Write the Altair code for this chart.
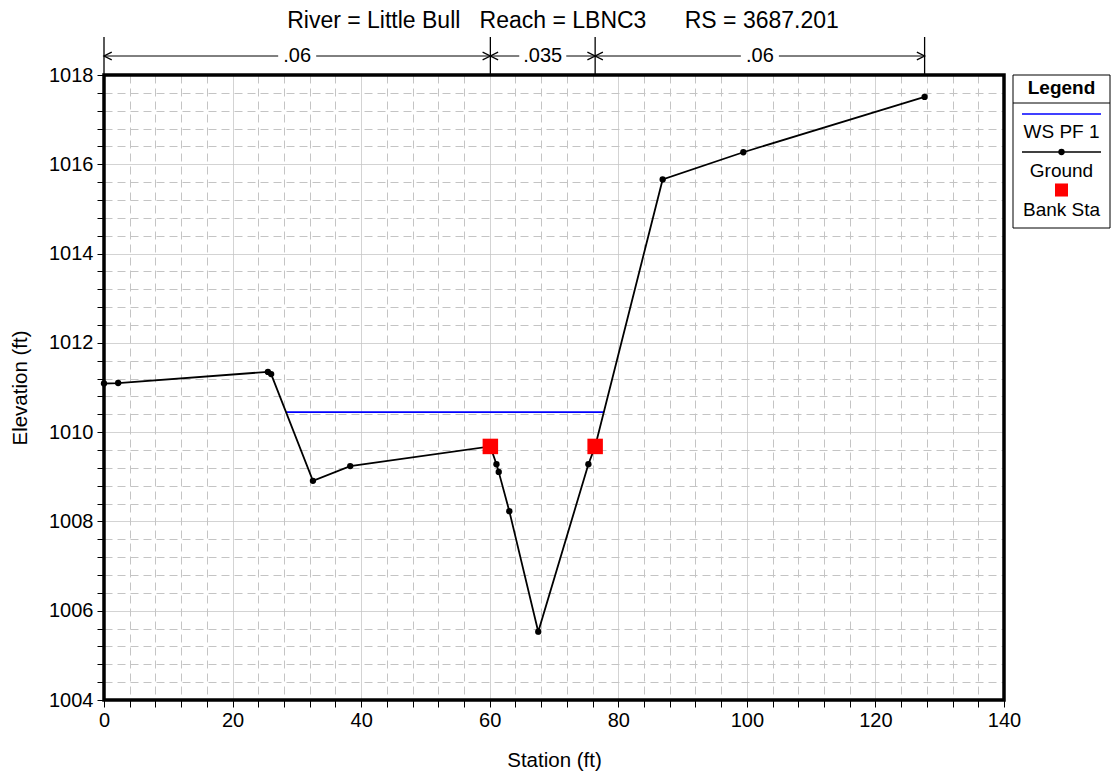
import altair as alt
import pandas as pd

# ---------------- data ----------------
ground_sta = [0.0, 2.2, 25.5, 26.0, 32.5, 38.3, 60.1, 61.05, 61.4, 63.05, 67.55, 75.35, 76.4, 86.9, 99.45, 127.65]
ground_elev = [1011.09, 1011.10, 1011.35, 1011.30, 1008.91, 1009.24, 1009.68, 1009.28, 1009.11, 1008.23,
               1005.53, 1009.28, 1009.68, 1015.66, 1016.27, 1017.51]
ws_sta = [28.35, 77.8]
ws_elev = [1010.45, 1010.45]
bank_sta = [60.1, 76.4]
bank_elev = [1009.68, 1009.68]
n_bounds = [0.0, 60.1, 76.4, 127.65]
n_values = [".06", ".035", ".06"]
x_ticks = list(range(0, 141, 4))
y_ticks = [round(1004 + 0.4 * i, 1) for i in range(36)]
title_text = "River = Little Bull\u00a0\u00a0\u00a0Reach = LBNC3\u00a0\u00a0\u00a0\u00a0\u00a0\u00a0RS = 3687.201"
legend_labels = ["WS PF 1", "Ground", "Bank Sta"]

W, H = 900, 625
FONT = "Liberation Sans"
GRID = "#c4c4c4"

xscale = alt.Scale(domain=[0, 140], nice=False, zero=False)
yscale = alt.Scale(domain=[1004, 1018], nice=False, zero=False)

x_axis = alt.Axis(
    values=x_ticks,
    labelExpr="datum.value % 20 === 0 ? datum.label : ''",
    labelOverlap=False, labelFlush=False,
    grid=True, gridColor=GRID, gridWidth=1,
    gridDash={"condition": {"test": "datum.value % 20 === 0", "value": [1, 0]}, "value": [8, 5]},
    domain=False, tickSize=7, tickColor="black", tickWidth=1,
    labelFont=FONT, labelFontSize=20, labelColor="black", labelPadding=3,
    title="Station (ft)", titleFont=FONT, titleFontSize=20.5, titleFontWeight="normal",
    titleColor="black", titlePadding=20,
)
y_axis = alt.Axis(
    values=y_ticks,
    labelExpr="abs(datum.value % 2) < 0.01 ? format(datum.value, 'd') : ''",
    labelOverlap=False, labelFlush=False,
    grid=True, gridColor=GRID, gridWidth=1,
    gridDash={"condition": {"test": "abs(datum.value % 2) < 0.01", "value": [1, 0]}, "value": [8, 5]},
    domain=False, tickSize=7, tickColor="black", tickWidth=1,
    labelFont=FONT, labelFontSize=20, labelColor="black", labelPadding=4,
    title="Elevation (ft)", titleFont=FONT, titleFontSize=20.5, titleFontWeight="normal",
    titleColor="black", titlePadding=18,
)

X = alt.X("sta:Q", scale=xscale, axis=x_axis)
Y = alt.Y("elev:Q", scale=yscale, axis=y_axis)

ground_df = pd.DataFrame({"sta": ground_sta, "elev": ground_elev})
ws_df = pd.DataFrame({"sta": ws_sta, "elev": ws_elev})
bank_df = pd.DataFrame({"sta": bank_sta, "elev": bank_elev})

ws_line = alt.Chart(ws_df).mark_line(color="#0000ff", strokeWidth=1.7).encode(x=X, y=Y)
ground_line = alt.Chart(ground_df).mark_line(color="black", strokeWidth=1.8).encode(x=X, y=Y)
ground_pts = alt.Chart(ground_df).mark_point(filled=True, color="black", size=40, opacity=1).encode(x=X, y=Y)
bank_pts = alt.Chart(bank_df).mark_point(shape="square", filled=True, color="#ff0000", size=240, opacity=1).encode(x=X, y=Y)

# ---------------- Manning's n annotation above the plot ----------------
px_per_unit = W / 140.0
seg_rows, mid_rows = [], []
for i, lab in enumerate(n_values):
    a, b = n_bounds[i], n_bounds[i + 1]
    m = (a + b) / 2
    g = (4.5 * len(lab) + 5.5) / px_per_unit
    seg_rows.append({"sta": a, "sta2": m - g})
    seg_rows.append({"sta": m + g, "sta2": b})
    mid_rows.append({"sta": m, "label": lab})
seg_df = pd.DataFrame(seg_rows)
mid_df = pd.DataFrame(mid_rows)
bound_df = pd.DataFrame({"sta": n_bounds})
left_df = pd.DataFrame({"sta": n_bounds[:-1]})
right_df = pd.DataFrame({"sta": n_bounds[1:]})

ANN_Y = -19
n_vlines = alt.Chart(bound_df).mark_rule(color="black", strokeWidth=1.3).encode(
    x=X, y=alt.value(-38), y2=alt.value(0))
n_hlines = alt.Chart(seg_df).mark_rule(color="black", strokeWidth=1).encode(
    x=X, x2="sta2:Q", y=alt.value(ANN_Y))
n_text = alt.Chart(mid_df).mark_text(font=FONT, fontSize=20, baseline="middle", align="center", color="black").encode(
    x=X, y=alt.value(ANN_Y), text="label:N")
left_arrows = alt.Chart(left_df).mark_point(shape="M2,-1L0,0L2,1", size=60, filled=False, color="black",
                                            strokeWidth=1.3, opacity=1).encode(x=X, y=alt.value(ANN_Y))
right_arrows = alt.Chart(right_df).mark_point(shape="M-2,-1L0,0L-2,1", size=60, filled=False, color="black",
                                              strokeWidth=1.3, opacity=1).encode(x=X, y=alt.value(ANN_Y))


def one():
    return alt.Chart(pd.DataFrame({"k": [0]}))


title = one().mark_text(font=FONT, fontSize=23, align="center", baseline="middle", color="black").encode(
    x=alt.value(459), y=alt.value(-54), text=alt.value(title_text))

frame = one().mark_rect(fill=None, stroke="black", strokeWidth=3.5, filled=False).encode(
    x=alt.value(0), x2=alt.value(W), y=alt.value(0), y2=alt.value(H))

# ---------------- legend box ----------------
LX0, LX1 = 909, 1006
LXC = (LX0 + LX1) / 2
leg_box = one().mark_rect(fill="white", stroke="black", strokeWidth=1).encode(
    x=alt.value(LX0), x2=alt.value(LX1), y=alt.value(0), y2=alt.value(153))
leg_sep = one().mark_rule(color="black", strokeWidth=1).encode(
    x=alt.value(LX0), x2=alt.value(LX1), y=alt.value(28))
leg_title = one().mark_text(font=FONT, fontSize=19, fontWeight="bold", align="center", baseline="middle",
                            color="black").encode(x=alt.value(LXC), y=alt.value(13), text=alt.value("Legend"))
leg_ws = one().mark_rule(color="#0000ff", strokeWidth=1.7).encode(
    x=alt.value(LX0 + 9), x2=alt.value(LX1 - 9), y=alt.value(39))
leg_gr = one().mark_rule(color="black", strokeWidth=1.7).encode(
    x=alt.value(LX0 + 9), x2=alt.value(LX1 - 9), y=alt.value(77))
leg_gr_pt = one().mark_point(filled=True, color="black", size=40, opacity=1).encode(
    x=alt.value(LXC), y=alt.value(77))
leg_bank = one().mark_point(shape="square", filled=True, color="#ff0000", size=170, opacity=1).encode(
    x=alt.value(LXC), y=alt.value(115))
leg_txt_df = pd.DataFrame({"label": legend_labels, "pos": [57, 96, 135]})
leg_txt = alt.Chart(leg_txt_df).mark_text(font=FONT, fontSize=19, align="center", baseline="middle",
                                          color="black").encode(
    x=alt.value(LXC), y=alt.Y("pos:Q", scale=None), text="label:N")

chart = alt.layer(
    ws_line, ground_line, ground_pts, bank_pts,
    n_vlines, n_hlines, n_text, left_arrows, right_arrows,
    title, frame,
    leg_box, leg_sep, leg_title, leg_ws, leg_gr, leg_gr_pt, leg_bank, leg_txt,
).properties(
    width=W, height=H,
    autosize=alt.AutoSizeParams(type="none"),
    padding={"left": 96, "top": 67, "right": 107, "bottom": 75},
).configure_view(strokeWidth=0).configure_axis(labelOverlap=False).configure(background="white")

chart.save("out.html", embed_options={"renderer": "svg", "actions": False})
